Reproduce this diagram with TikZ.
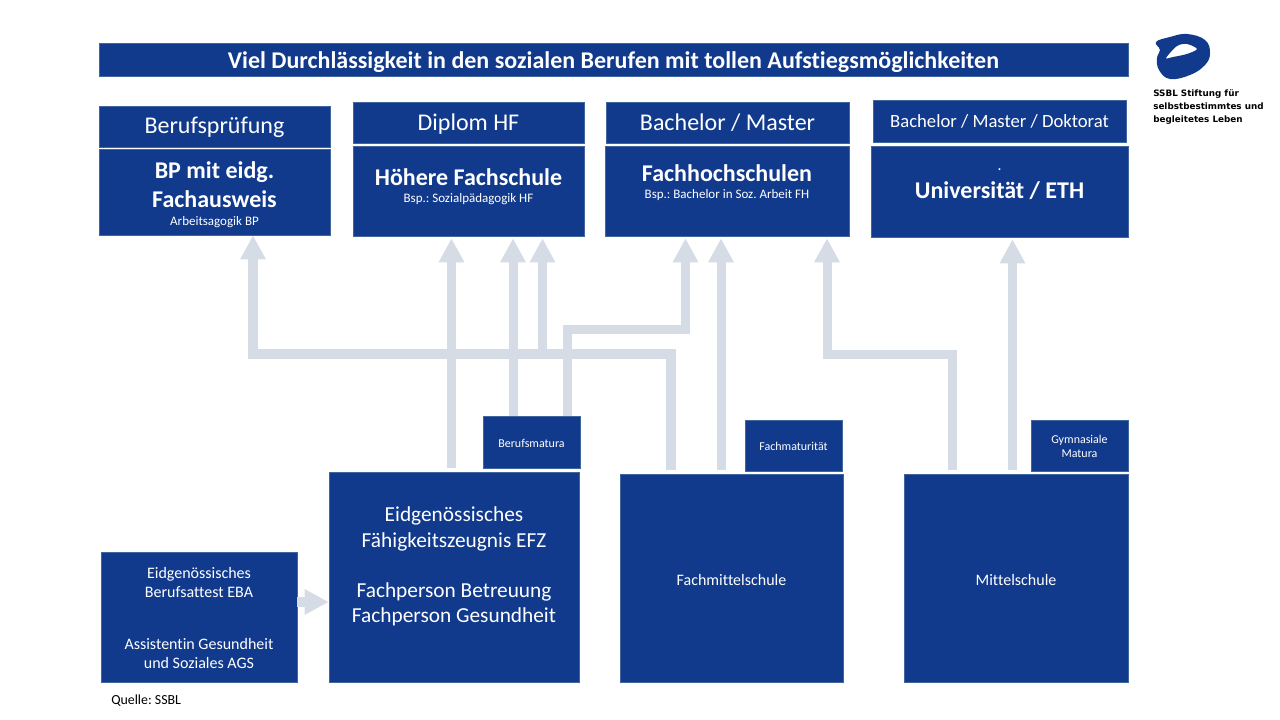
\documentclass[tikz,border=0pt]{standalone}
\usepackage{fontspec}
\setmainfont{Carlito}[Ligatures=NoCommon]
\newfontfamily\logofont{DejaVu Sans}
\usetikzlibrary{arrows.meta}
\definecolor{ssblblue}{HTML}{113A8C}
\definecolor{ssblline}{HTML}{41659F}
\definecolor{ssblflow}{HTML}{D6DCE5}
\newcommand{\fsize}[2]{\fontsize{#1}{#2}\selectfont}
\newcommand{\boxbold}[1]{{\bfseries\fsize{18}{21}#1}}
\newcommand{\boxsmall}[1]{{\fsize{9.75}{12}#1}}
\begin{document}
\frenchspacing
\begin{tikzpicture}[x=0.75pt,y=-0.75pt,
  box/.style 2 args={fill=ssblblue,draw=ssblline,line width=0.5pt,text=white,align=center,
    inner sep=0pt,minimum width=#1*0.75pt,minimum height=#2*0.75pt},
  drop/.style={text height=#1*1.5pt,text depth=0pt},
  flow/.style={draw=ssblflow,line width=6.75pt,shorten <=2.5pt,shorten >=1.5pt,
    -{Triangle[width=18pt,length=18pt]}},
  link/.style={draw=ssblflow,line width=7pt,shorten <=2.5pt,
    -{Triangle[width=18pt,length=18pt]}}]
  \useasboundingbox (0,0) rectangle (1280,720);
  \fill[white] (0,0) rectangle (1280,720);

  \node[box={1029}{33},drop=9,font=\bfseries\fsize{18}{22}] (title) at (613.5,59.5)
    {Viel Durchlässigkeit in den sozialen Berufen mit tollen Aufstiegsmöglichkeiten};

  \node[box={231}{41},drop=7.5,font=\fsize{18}{22}] (bphead) at (214.5,126.5) {Berufsprüfung};
  \node[box={231}{86},drop=33.7,font=\fsize{18}{15}] (bp) at (214.5,192)
    {\boxbold{BP mit eidg.}\\[4.9pt]\boxbold{Fachausweis}\\[-1.5pt]\boxsmall{Arbeitsagogik BP}};
  \node[box={231}{41},drop=8.5,font=\fsize{18}{22}] (hfhead) at (468.5,122.5) {Diplom HF};
  \node[box={231}{90},drop=12,font=\fsize{18}{14.25}] (hf) at (468.5,191)
    {\boxbold{Höhere Fachschule}\\[-1.5pt]\boxsmall{Bsp.: Sozialpädagogik HF}};
  \node[box={243}{41},drop=8.5,font=\fsize{18}{22}] (fhhead) at (727.5,122.5) {Bachelor / Master};
  \node[box={244}{90},drop=7.3,font=\fsize{18}{14.25}] (fh) at (727,191)
    {\boxbold{Fachhochschulen}\\[-1.5pt]\boxsmall{Bsp.: Bachelor in Soz. Arbeit FH}};
  \node[box={253}{42},drop=7,font=\fsize{14}{17}] (unihead) at (999.5,121) {Bachelor / Master / Doktorat};
  \node[box={257}{91},drop=7.2,font=\fsize{14}{20.8}] (uni) at (999.5,191.5)
    {\boxsmall{\bfseries .}\\\boxbold{Universität / ETH}};

  \node[box={97}{52},drop=5,font=\fsize{9}{11}] (bm) at (531.5,442) {Berufsmatura};
  \node[box={97}{51},drop=5,font=\fsize{9}{11}] (fm) at (793.5,445.5) {Fachmaturität};
  \node[box={97}{51},drop=12,font=\fsize{9}{10.5}] (gm) at (1079.5,445.5) {Gymnasiale\\Matura};

  \node[box={250}{210},drop=45.7,font=\fsize{16}{19.25}] (efz) at (454,577)
    {Eidgenössisches\\Fähigkeitszeugnis EFZ\\[17.9pt]Fachperson Betreuung\\Fachperson Gesundheit};
  \node[box={223}{208},drop=7,font=\fsize{12}{14}] (fms) at (731.5,578) {Fachmittelschule};
  \node[box={224}{208},drop=7,font=\fsize{12}{14}] (ms) at (1016,578) {Mittelschule};
  \node[box={196}{130},drop=51.3,font=\fsize{12}{14.25}] (eba) at (199,617)
    {Eidgenössisches\\Berufsattest EBA\\[24.75pt]Assistentin Gesundheit\\und Soziales AGS};

  \node[anchor=base west,inner sep=0pt,font=\fsize{10.4}{12}] (quelle) at (111,704) {Quelle: SSBL};

  \coordinate (xbp) at (253,354);
  \coordinate (xfms) at (671,354);
  \coordinate (xefz) at (451.5,0);
  \coordinate (xbma) at (513,0);
  \coordinate (xjoin) at (542.5,354);
  \coordinate (xbmb) at (567,329);
  \coordinate (xfh) at (685.5,329);
  \coordinate (xfma) at (721,0);
  \coordinate (xfhb) at (827,354);
  \coordinate (xmsa) at (952,354);
  \coordinate (xmsb) at (1012.5,0);
  \coordinate (yeba) at (0,602);

  \draw[link] (fms.north -| xfms) -- (xfms) -- (xbp) -- (bp.south -| xbp);
  \draw[flow] (efz.north -| xefz) -- (hf.south -| xefz);
  \draw[flow,shorten <=0pt] (bm.north -| xbma) -- (hf.south -| xbma);
  \draw[flow,shorten <=0pt] (xjoin) -- (hf.south -| xjoin);
  \draw[flow,shorten <=0pt] (bm.north -| xbmb) -- (xbmb) -- (xfh) -- (fh.south -| xfh);
  \draw[flow] (fms.north -| xfma) -- (fh.south -| xfma);
  \draw[flow] (ms.north -| xmsa) -- (xmsa) -- (xfhb) -- (fh.south -| xfhb);
  \draw[flow] (ms.north -| xmsb) -- (uni.south -| xmsb);
  \draw[link,shorten <=0pt] (eba.east |- yeba) -- (efz.west |- yeba);

  \fill[ssblblue,even odd rule] plot[smooth cycle,tension=0.7] coordinates
    {(1156,42) (1170,37) (1187,34) (1205,40) (1210,53) (1205,65) (1190,75) (1170,79) (1159,70) (1157,58) (1160,50)}
    plot[smooth cycle,tension=0.5] coordinates
    {(1166,58) (1177,46) (1187,44) (1197,49) (1187,54) (1173,57)};
  \node[anchor=north west,inner sep=0pt,align=left,font=\logofont\bfseries\fsize{6.6}{9.9}] (logo) at (1153,89)
    {SSBL Stiftung für\\selbstbestimmtes und\\begleitetes Leben};
\end{tikzpicture}
\end{document}
